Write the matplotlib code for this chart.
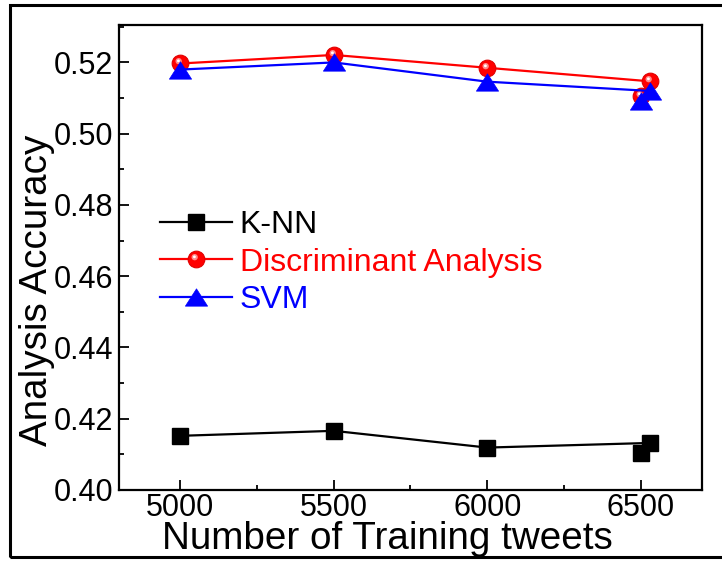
import matplotlib

matplotlib.use("Agg")

import matplotlib.pyplot as plt
from matplotlib.legend_handler import HandlerTuple
from matplotlib.patches import Rectangle
from matplotlib.path import Path
from matplotlib.ticker import FormatStrFormatter, MultipleLocator

plt.rcParams["font.family"] = ["Liberation Sans", "DejaVu Sans"]

# last two points sit next to each other near 6500
TWEETS = [5000, 5500, 6000, 6530, 6500]
KNN = [0.4152, 0.4166, 0.4119, 0.4132, 0.4104]
DISCRIMINANT = [0.5197, 0.5221, 0.5185, 0.5147, 0.5106]
SVM = [0.5180, 0.5200, 0.5146, 0.5120, 0.5093]

X_TICKS = [5000, 5500, 6000, 6500]
Y_TICKS = [0.40, 0.42, 0.44, 0.46, 0.48, 0.50, 0.52]


def offset_circle(cx, cy, r):
    # circle off-centre; the lone corner points keep marker scaling fixed
    circ = Path.circle((cx, cy), r)
    corners = Path([(1.0, 1.0), (-1.0, -1.0)], [Path.MOVETO, Path.MOVETO])
    return Path.make_compound_path(corners, circ)


triangle = Path([(-1.0, -0.78), (1.0, -0.78), (0.0, 0.78), (-1.0, -0.78)],
                [Path.MOVETO, Path.LINETO, Path.LINETO, Path.CLOSEPOLY])

fig = plt.figure(figsize=(7.22, 5.61), dpi=100)
ax = fig.add_axes([0.1648, 0.1266, 0.8075, 0.8288])

(knn_line,) = ax.plot(TWEETS, KNN, color="black", lw=1.6, marker="s",
                      ms=11.5, mec="black", mfc="black")
(da_line,) = ax.plot(TWEETS, DISCRIMINANT, color="#ff0000", lw=1.6, marker="o",
                     ms=12, mec="#e00000", mfc="#ff0000", mew=0.8)
(da_glow,) = ax.plot(TWEETS, DISCRIMINANT, ls="none", marker=offset_circle(-0.22, 0.28, 0.38),
                     ms=12, mfc="#ff8a8a", mew=0)
(da_spot,) = ax.plot(TWEETS, DISCRIMINANT, ls="none", marker=offset_circle(-0.25, 0.32, 0.17),
                     ms=12, mfc="white", mew=0)
(svm_line,) = ax.plot(TWEETS, SVM, color="#0000ff", lw=1.6, marker=triangle,
                      ms=16, mec="#0000ff", mfc="#0000ff", mew=0.5)

ax.set_xlim(4800, 6700)
ax.set_ylim(0.40, 0.5305)
ax.set_xticks(X_TICKS)
ax.set_yticks(Y_TICKS)
ax.xaxis.set_minor_locator(MultipleLocator(250))
ax.yaxis.set_minor_locator(MultipleLocator(0.01))
ax.yaxis.set_major_formatter(FormatStrFormatter("%.2f"))
ax.tick_params(which="both", direction="in", width=1.3, labelsize=22, top=False, right=False)
ax.tick_params(which="major", length=7)
ax.tick_params(axis="x", which="major", pad=2)
ax.tick_params(axis="y", which="major", pad=4)
ax.tick_params(which="minor", length=3.5)
for spine in ax.spines.values():
    spine.set_linewidth(1.6)

ax.set_xlabel("Number of Training tweets", fontsize=27.8)
ax.set_ylabel("Analysis Accuracy", fontsize=27.8)
ax.xaxis.set_label_coords(0.461, -0.066)
ax.yaxis.set_label_coords(-0.109, 0.43)

leg = ax.legend(
    [knn_line, (da_line, da_glow, da_spot), svm_line],
    ["K-NN", "Discriminant Analysis", "SVM"],
    handler_map={tuple: HandlerTuple(ndivide=1, pad=0)},
    loc="upper left", bbox_to_anchor=(160 / 722, 1 - 210 / 561),
    bbox_transform=fig.transFigure, frameon=False, fontsize=23,
    handlelength=2.25, handletextpad=0.25, labelspacing=0.24,
    borderpad=0, borderaxespad=0,
)
for text, color in zip(leg.get_texts(), ["black", "#ff0000", "#0000ff"]):
    text.set_color(color)

fig.patches.append(Rectangle((10 / 722, 1 - 557 / 561), 1.0, 552 / 561,
                             transform=fig.transFigure, fill=False,
                             edgecolor="black", linewidth=2.2))

fig.savefig("out.png", dpi=100)
